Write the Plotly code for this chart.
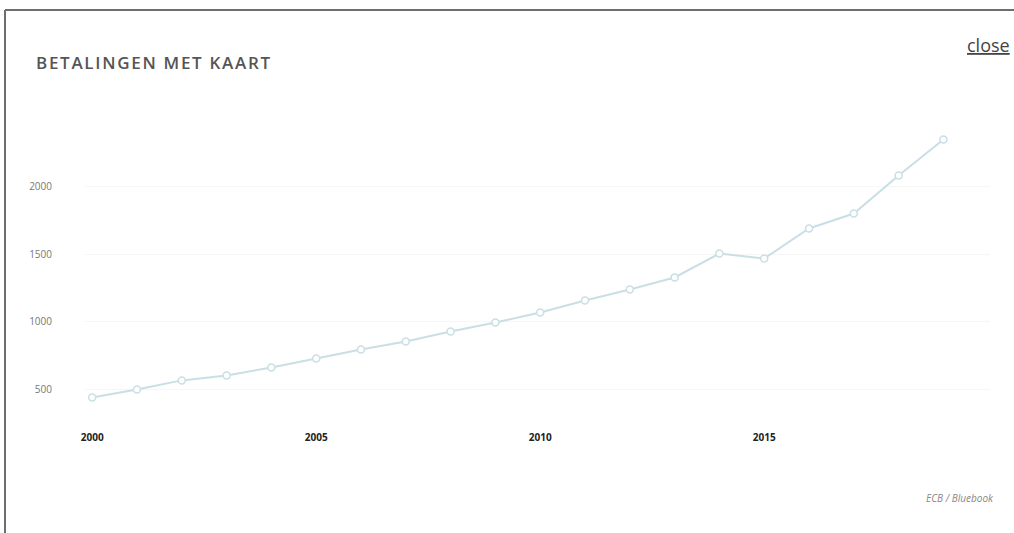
import plotly.graph_objects as go

years = list(range(2000, 2020))
payments = [441, 500, 567, 603, 663, 729, 796, 855, 929, 995,
            1069, 1158, 1239, 1328, 1505, 1468, 1690, 1801, 2082, 2348]
x_ticks = [2000, 2005, 2010, 2015]
y_ticks = [500, 1000, 1500, 2000]
title_text = "BETALINGEN MET KAART"

W, H = 1014, 533
L, R, T, B = 85, 24, 119, 128
pw, ph = W - L - R, H - T - B

def px(x):
    return (x - L) / pw

def py(y):
    return (H - B - y) / ph

spaced_title = "\u200a".join(title_text)

fig = go.Figure()
fig.add_trace(go.Scatter(
    x=years, y=payments, mode="lines+markers",
    line=dict(color="#c9dfe5", width=2),
    marker=dict(symbol="circle", size=7, color="white",
                line=dict(color="#c9dfe5", width=1.5)),
    hoverinfo="x+y", showlegend=False,
))

fig.update_layout(
    width=W, height=H,
    margin=dict(l=L, r=R, t=T, b=B),
    paper_bgcolor="white", plot_bgcolor="white",
    font=dict(family="Open Sans", color="#666"),
    xaxis=dict(range=[1999.84, 2020.04], tickvals=x_ticks,
               showgrid=False, zeroline=False, showline=False,
               tickfont=dict(size=10, color="#222", family="Open Sans", weight="bold"),
               ticks="", ticklabelstandoff=25),
    yaxis=dict(range=[385, 2500], tickvals=y_ticks,
               showgrid=True, gridcolor="#f6f6f6", zeroline=False, showline=False,
               tickfont=dict(size=10, color="#777", family="Open Sans"),
               ticks="", ticklabelstandoff=32),
    shapes=[
        dict(type="line", xref="paper", yref="paper", x0=px(5), x1=px(W + 5),
             y0=py(10), y1=py(10), line=dict(color="#6e6e6e", width=2)),
        dict(type="line", xref="paper", yref="paper", x0=px(5), x1=px(5),
             y0=py(10), y1=py(H + 5), line=dict(color="#6e6e6e", width=2)),
    ],
    annotations=[
        dict(text=spaced_title, xref="paper", yref="paper",
             x=px(34), y=py(63), xanchor="left", yanchor="middle", showarrow=False,
             font=dict(size=17, color="#555", family="Open Sans", weight=600)),
        dict(text="<u>close</u>", xref="paper", yref="paper",
             x=px(965), y=py(45), xanchor="left", yanchor="middle", showarrow=False,
             font=dict(size=18, color="#444", family="Open Sans")),
        dict(text="<i>ECB / Bluebook</i>", xref="paper", yref="paper",
             x=px(996), y=py(498), xanchor="right", yanchor="middle", showarrow=False,
             font=dict(size=10, color="#888", family="Open Sans")),
    ],
)

fig.write_html("out.html")
